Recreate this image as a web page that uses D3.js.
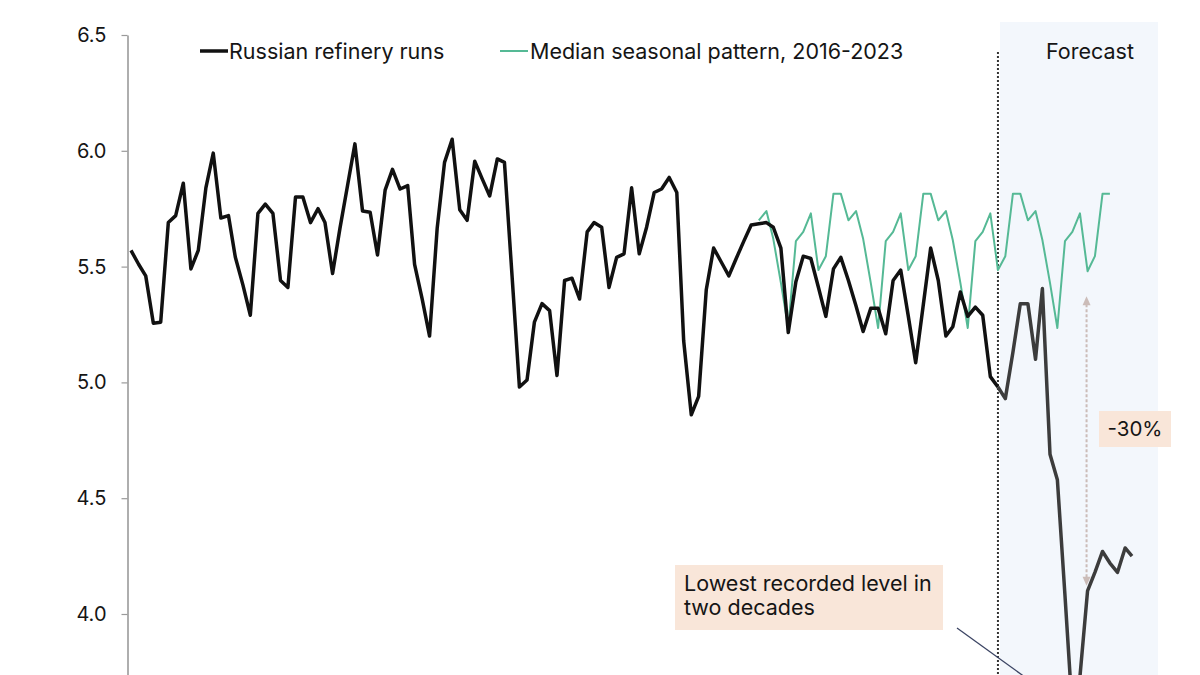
<!DOCTYPE html>
<html>
<head>
<meta charset="utf-8">
<script src="https://cdn.jsdelivr.net/npm/d3@7"></script>
<style>
  html, body { margin: 0; padding: 0; background: #fff; }
  svg { display: block; overflow: hidden; }
  text { font-family: Inter, "Noto Sans", sans-serif; fill: #151515; }
</style>
</head>
<body>
<svg id="chart"></svg>
<script>
// Russian refinery runs, million barrels a day, monthly from Jan 2016
const months = d3.timeMonth.range(new Date(2016, 0, 1), new Date(2027, 3, 1));

// Actual runs, Jan 2016 - Sep 2025
const actualRuns = [
  5.57, 5.51, 5.46, 5.255, 5.26, 5.69, 5.72, 5.86, 5.49, 5.57, 5.84, 5.99,
  5.71, 5.72, 5.54, 5.42, 5.29, 5.73, 5.77, 5.73, 5.44, 5.41, 5.80, 5.80,
  5.69, 5.75, 5.69, 5.47, 5.665, 5.85, 6.03, 5.74, 5.735, 5.55, 5.83, 5.92,
  5.835, 5.85, 5.51, 5.36, 5.20, 5.665, 5.95, 6.05, 5.745, 5.70, 5.955, 5.88,
  5.805, 5.965, 5.95, 5.46, 4.98, 5.01, 5.26, 5.34, 5.31, 5.03, 5.44, 5.45,
  5.36, 5.65, 5.69, 5.67, 5.41, 5.54, 5.555, 5.84, 5.555, 5.67, 5.82, 5.835,
  5.885, 5.82, 5.18, 4.86, 4.94, 5.40, 5.58, 5.52, 5.46, 5.535, 5.61, 5.68,
  5.685, 5.69, 5.67, 5.58, 5.215, 5.435, 5.545, 5.535, 5.41, 5.285, 5.49, 5.54,
  5.44, 5.33, 5.22, 5.32, 5.32, 5.21, 5.44, 5.485, 5.285, 5.085, 5.335, 5.58,
  5.44, 5.20, 5.24, 5.39, 5.285, 5.325, 5.29, 5.025, 4.98
];

// Forecast, Sep 2025 - Mar 2027
const forecastStart = 116;
const forecastRuns = [
  4.98, 4.93, 5.13, 5.34, 5.34, 5.10, 5.405, 4.69, 4.58, 4.08, 3.58, 3.73,
  4.10, 4.18, 4.27, 4.22, 4.18, 4.285, 4.25
];

// Median seasonal pattern 2016-2023, drawn Jan 2023 - Dec 2026
const seasonalStart = 84;
const seasonalMedian = [
  5.70, 5.74, 5.62, 5.43, 5.235, 5.61, 5.65, 5.73, 5.485, 5.545, 5.815, 5.815,
  5.70, 5.74, 5.62, 5.43, 5.235, 5.61, 5.65, 5.73, 5.485, 5.545, 5.815, 5.815,
  5.70, 5.74, 5.615, 5.43, 5.235, 5.61, 5.65, 5.73, 5.485, 5.545, 5.815, 5.815,
  5.70, 5.74, 5.615, 5.43, 5.235, 5.61, 5.65, 5.73, 5.48, 5.545, 5.815, 5.815
];

const yTicks = [4.0, 4.5, 5.0, 5.5, 6.0, 6.5];

const width = 1200, height = 675;
const svg = d3.select('#chart').attr('width', width).attr('height', height);

const x = d3.scaleTime()
  .domain([months[0], months[months.length - 1]])
  .range([131, 1132]);

const y = d3.scaleLinear()
  .domain([3.7366, 6.5])
  .range([height, 35]);

// Forecast shading
svg.append('rect')
  .attr('x', x(months[forecastStart]) + 2)
  .attr('y', y(6.556))
  .attr('width', 1158 - x(months[forecastStart]) - 2)
  .attr('height', height - y(6.556))
  .attr('fill', '#f3f7fc');

svg.append('text')
  .attr('x', 1090)
  .attr('y', 59)
  .attr('text-anchor', 'middle')
  .style('font-size', '21.5px')
  .text('Forecast');

// Dotted divider
svg.append('line')
  .attr('x1', x(months[forecastStart]))
  .attr('x2', x(months[forecastStart]))
  .attr('y1', 52)
  .attr('y2', height)
  .attr('stroke', '#333')
  .attr('stroke-width', 2)
  .attr('stroke-dasharray', '2,2');

// Y axis
const yAxis = svg.append('g')
  .attr('transform', 'translate(127.5,0)')
  .call(d3.axisLeft(y).tickValues(yTicks).tickFormat(d3.format('.1f'))
    .tickSize(6).tickSizeOuter(0).tickPadding(15));
yAxis.select('.domain').attr('stroke', '#9a9a9a').attr('stroke-width', 1.6);
yAxis.selectAll('.tick line').attr('stroke', '#9a9a9a').attr('stroke-width', 1.2);
yAxis.selectAll('.tick text')
  .style('font-size', '20px')
  .style('font-family', 'Inter, "Noto Sans", sans-serif')
  .attr('fill', '#151515');

// Lines
const line = d3.line()
  .x(d => x(d.date))
  .y(d => y(d.value));

const seasonalData = seasonalMedian.map((v, i) => ({ date: months[seasonalStart + i], value: v }));
const actualData = actualRuns.map((v, i) => ({ date: months[i], value: v }));
const forecastData = forecastRuns.map((v, i) => ({ date: months[forecastStart + i], value: v }));

svg.append('path')
  .datum(seasonalData)
  .attr('fill', 'none')
  .attr('stroke', '#55b995')
  .attr('stroke-width', 2)
  .attr('stroke-linejoin', 'round')
  .attr('d', line);

svg.append('path')
  .datum(forecastData)
  .attr('fill', 'none')
  .attr('stroke', '#3c3c3c')
  .attr('stroke-width', 3.5)
  .attr('stroke-linejoin', 'round')
  .attr('d', line);

svg.append('path')
  .datum(actualData)
  .attr('fill', 'none')
  .attr('stroke', '#111')
  .attr('stroke-width', 3.5)
  .attr('stroke-linejoin', 'round')
  .attr('d', line);

// Legend
svg.append('line')
  .attr('x1', 200).attr('x2', 228).attr('y1', 51).attr('y2', 51)
  .attr('stroke', '#111').attr('stroke-width', 3.5);
svg.append('text')
  .attr('x', 229).attr('y', 59)
  .style('font-size', '21.5px')
  .text('Russian refinery runs');

svg.append('line')
  .attr('x1', 500).attr('x2', 528).attr('y1', 51).attr('y2', 51)
  .attr('stroke', '#55b995').attr('stroke-width', 2);
svg.append('text')
  .attr('x', 530).attr('y', 59)
  .style('font-size', '21.5px')
  .text('Median seasonal pattern, 2016-2023');

// -30% arrow
const arrowDate = months[128];
const ax = x(arrowDate) - 1;
const arrowTop = y(seasonalMedian[128 - seasonalStart]) + 25;
const arrowBottom = y(forecastRuns[128 - forecastStart]) - 5;
const arrowColor = '#cbbcb8';
svg.append('line')
  .attr('x1', ax).attr('x2', ax)
  .attr('y1', arrowTop + 8).attr('y2', arrowBottom - 8)
  .attr('stroke', arrowColor)
  .attr('stroke-width', 2)
  .attr('stroke-dasharray', '3,2');
svg.append('path')
  .attr('d', `M${ax},${arrowTop} l-4,9 l8,0 z`)
  .attr('fill', arrowColor);
svg.append('path')
  .attr('d', `M${ax},${arrowBottom} l-4,-9 l8,0 z`)
  .attr('fill', arrowColor);

svg.append('rect')
  .attr('x', 1099).attr('y', 411)
  .attr('width', 72).attr('height', 36)
  .attr('fill', '#f9e6d9');
svg.append('text')
  .attr('x', 1135).attr('y', 436)
  .attr('text-anchor', 'middle')
  .style('font-size', '20.5px')
  .text('-30%');

// Lowest level annotation
const lowIndex = 126;
svg.append('line')
  .attr('x1', 957).attr('y1', 628)
  .attr('x2', x(months[lowIndex])).attr('y2', y(forecastRuns[lowIndex - forecastStart]))
  .attr('stroke', '#3b4463')
  .attr('stroke-width', 1.3);

svg.append('rect')
  .attr('x', 675).attr('y', 565)
  .attr('width', 268).attr('height', 65)
  .attr('fill', '#f9e6d9');
svg.append('text')
  .attr('x', 684).attr('y', 591)
  .style('font-size', '21.5px')
  .text('Lowest recorded level in');
svg.append('text')
  .attr('x', 684).attr('y', 615)
  .style('font-size', '21.5px')
  .text('two decades');
</script>
</body>
</html>
